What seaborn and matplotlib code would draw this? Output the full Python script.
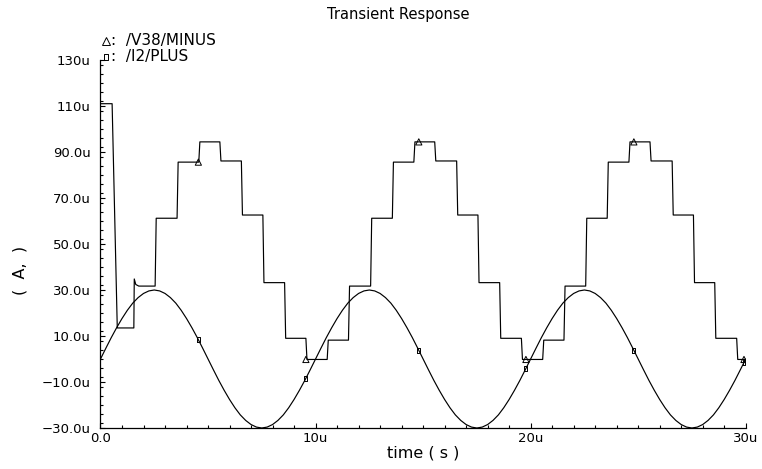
import numpy as np
import pandas as pd
import matplotlib
matplotlib.use("Agg")
import matplotlib.pyplot as plt
import seaborn as sns
from matplotlib.lines import Line2D
from matplotlib.ticker import FixedLocator, MultipleLocator

# ---- data (time in µs, current in µA) ----
# /V38/MINUS : start-up transient, then a staircase with one step per µs
v38_head_t = [0.0, 0.54, 0.78, 1.55, 1.57, 1.64, 1.78]
v38_head_v = [111.0, 111.0, 13.5, 13.5, 34.8, 32.4, 31.7]
v38_edge_t = [2.54, 3.56, 4.57, 5.55, 6.55, 7.55, 8.56, 9.55,
              10.54, 11.53, 12.56, 13.57, 14.57, 15.54, 16.56, 17.55, 18.56, 19.57,
              20.56, 21.55, 22.56, 23.56, 24.57, 25.55, 26.58, 27.57, 28.56, 29.58]
v38_edge_v = [61.2, 85.6, 94.4, 86.1, 62.6, 33.2, 9.0, -0.2,
              8.2, 31.7, 61.2, 85.6, 94.4, 86.1, 62.6, 33.2, 9.0, -0.2,
              8.2, 31.7, 61.2, 85.6, 94.4, 86.1, 62.6, 33.2, 9.0, -0.2]
t_end = 30.0

# /I2/PLUS : sampled every 0.25 µs
i2_step = 0.25
i2_v = [
    0.0, 4.7, 9.3, 13.6, 17.6, 21.2, 24.3, 26.7, 28.5, 29.6, 30.0, 29.6, 28.5, 26.7, 24.3, 21.2, 17.6, 13.6, 9.3, 4.7,
    0.0, -4.7, -9.3, -13.6, -17.6, -21.2, -24.3, -26.7, -28.5, -29.6, -30.0, -29.6, -28.5, -26.7, -24.3, -21.2, -17.6, -13.6, -9.3, -4.7,
    0.0, 4.7, 9.3, 13.6, 17.6, 21.2, 24.3, 26.7, 28.5, 29.6, 30.0, 29.6, 28.5, 26.7, 24.3, 21.2, 17.6, 13.6, 9.3, 4.7,
    0.0, -4.7, -9.3, -13.6, -17.6, -21.2, -24.3, -26.7, -28.5, -29.6, -30.0, -29.6, -28.5, -26.7, -24.3, -21.2, -17.6, -13.6, -9.3, -4.7,
    0.0, 4.7, 9.3, 13.6, 17.6, 21.2, 24.3, 26.7, 28.5, 29.6, 30.0, 29.6, 28.5, 26.7, 24.3, 21.2, 17.6, 13.6, 9.3, 4.7,
    0.0, -4.7, -9.3, -13.6, -17.6, -21.2, -24.3, -26.7, -28.5, -29.6, -30.0, -29.6, -28.5, -26.7, -24.3, -21.2, -17.6, -13.6, -9.3, -4.7,
    0.0,
]

# waveform markers
mark_t = [4.55, 9.55, 14.8, 19.78, 24.8, 29.92]
mark_v38 = [85.6, -0.2, 94.4, -0.2, 94.4, -0.2]
mark_i2 = [8.4, -8.4, 3.8, -4.1, 3.8, -1.5]

# axis ticks
y_major = [-30, -10, 10, 30, 50, 70, 90, 110, 130]
y_labels = ["\u221230.0u", "\u221210.0u", "10.0u", "30.0u", "50.0u", "70.0u", "90.0u", "110u", "130u"]
x_major = [0, 10, 20, 30]
x_labels = ["0.0", "10u", "20u", "30u"]

# ---- build the staircase polyline (short finite edge time) ----
rise = 0.05
st, sv = list(v38_head_t), list(v38_head_v)
level = sv[-1]
for t, v in zip(v38_edge_t, v38_edge_v):
    st += [t, t + rise]
    sv += [level, v]
    level = v
st.append(t_end)
sv.append(level)
v38_df = pd.DataFrame({"t": st, "v": sv})
i2_df = pd.DataFrame({"t": np.arange(len(i2_v)) * i2_step, "v": i2_v})

# ---- figure ----
sns.set_style("ticks")
plt.rcParams["font.family"] = ["DejaVu Sans"]
plt.rcParams["text.color"] = "black"
plt.rcParams["xtick.color"] = "black"
plt.rcParams["ytick.color"] = "black"
plt.rcParams["xtick.labelcolor"] = "black"
plt.rcParams["ytick.labelcolor"] = "black"
W, H = 762, 469
fig = plt.figure(figsize=(W / 100, H / 100), dpi=100)
ax = fig.add_axes([100.5 / W, (H - 428) / H, 645.2 / W, 368 / H])

lw = 0.85
sns.lineplot(data=v38_df, x="t", y="v", sort=False, estimator=None,
             color="black", linewidth=lw, ax=ax)
sns.lineplot(data=i2_df, x="t", y="v", sort=False, estimator=None,
             color="black", linewidth=lw, ax=ax)

rect_marker = [(-0.55, -1.0), (0.55, -1.0), (0.55, 1.0), (-0.55, 1.0), (-0.55, -1.0)]
sns.scatterplot(x=mark_t, y=mark_v38, marker="^", s=20, color="black",
                linewidth=0.7, ax=ax, zorder=5)
ax.collections[-1].set_facecolor("none")
ax.collections[-1].set_edgecolor("black")
sns.scatterplot(x=mark_t, y=mark_i2, marker=rect_marker, s=14, color="black",
                linewidth=0.7, ax=ax, zorder=5)
ax.collections[-1].set_facecolor("none")
ax.collections[-1].set_edgecolor("black")

ax.set_xlim(0, 30)
ax.set_ylim(-30, 130)
ax.set_xlabel("")
ax.set_ylabel("")
sns.despine(ax=ax)
for s in ("left", "bottom"):
    ax.spines[s].set_linewidth(0.9)
    ax.spines[s].set_color("black")

ax.yaxis.set_major_locator(FixedLocator(y_major))
ax.set_yticklabels(y_labels)
ax.yaxis.set_minor_locator(MultipleLocator(4))
ax.xaxis.set_major_locator(FixedLocator(x_major))
ax.set_xticklabels(x_labels)
ax.xaxis.set_minor_locator(MultipleLocator(1))
ax.tick_params(which="both", direction="in", color="black", width=0.8)
ax.tick_params(which="major", length=3.6)
ax.tick_params(which="minor", length=2.2)
ax.tick_params(axis="y", which="major", pad=7.0, labelsize=9.5)
ax.tick_params(axis="x", which="major", pad=3, labelsize=9.5)

# ---- texts ----
fig.text(398 / W, 1 - 14 / H, "Transient Response", ha="center", va="center", fontsize=10.5)
fig.text(423 / W, 1 - 453 / H, "time ( s )", ha="center", va="center", fontsize=11.5)
fig.text(20 / W, 1 - 270 / H, "(  A,  )", ha="center", va="center", rotation=90, fontsize=11.5)

# series key in the upper left
key = [("^", 41, ":  /V38/MINUS", 5.5), (rect_marker, 57, ":  /I2/PLUS", 4.0)]
for mk, yp, label, ms in key:
    fig.add_artist(Line2D([106 / W], [1 - yp / H], transform=fig.transFigure,
                          marker=mk, markersize=ms, markerfacecolor="none",
                          markeredgecolor="black", markeredgewidth=0.7, linestyle="none"))
    fig.text(111 / W, 1 - yp / H, label, ha="left", va="center", fontsize=11)

fig.savefig("out.png", dpi=100)
